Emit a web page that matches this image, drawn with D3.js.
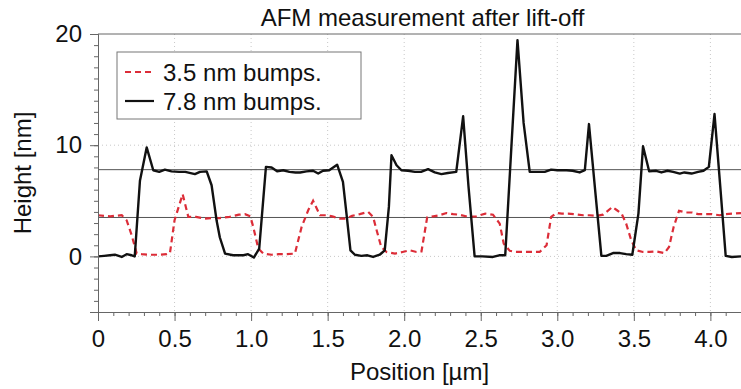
<!DOCTYPE html>
<html>
<head>
<meta charset="utf-8">
<script src="https://cdn.jsdelivr.net/npm/d3@7"></script>
<style>
  body { margin: 0; background: #fff; }
  text { font-family: "Liberation Sans", Arial, Helvetica, sans-serif; fill: #111; }
</style>
</head>
<body>
<div id="root"></div>
<script>
// AFM line profiles, [position um, height nm]
var bumps35 = [
  [0.0, 3.7], [0.04, 3.65], [0.08, 3.6], [0.11, 3.65], [0.155, 3.7], [0.187, 3.25],
  [0.22, 1.9], [0.253, 0.25], [0.285, 0.2], [0.34, 0.15], [0.39, 0.15], [0.448, 0.2],
  [0.47, 0.3], [0.50, 3.25], [0.553, 5.6], [0.59, 3.55], [0.64, 3.55], [0.698, 3.4],
  [0.74, 3.45], [0.796, 3.45], [0.86, 3.55], [0.92, 3.75], [0.96, 3.8], [0.995, 3.6],
  [1.014, 2.65], [1.047, 0.7], [1.08, 0.25], [1.134, 0.15], [1.18, 0.2], [1.23, 0.2],
  [1.286, 0.25], [1.33, 2.65], [1.373, 4.15], [1.405, 5.0], [1.45, 3.7], [1.49, 3.7],
  [1.53, 3.6], [1.58, 3.4], [1.62, 3.4], [1.66, 3.65], [1.71, 3.8], [1.765, 4.0],
  [1.797, 3.55], [1.82, 2.35], [1.85, 0.85], [1.885, 0.4], [1.94, 0.25], [1.99, 0.4],
  [2.037, 0.55], [2.08, 0.4], [2.113, 0.45], [2.15, 3.5], [2.19, 3.6], [2.23, 3.7],
  [2.276, 3.9], [2.32, 3.8], [2.36, 3.75], [2.42, 3.55], [2.47, 3.6], [2.53, 3.85],
  [2.58, 3.75], [2.624, 2.95], [2.65, 1.15], [2.69, 0.5], [2.73, 0.4], [2.78, 0.4],
  [2.84, 0.4], [2.885, 0.4], [2.93, 1.0], [2.96, 3.55], [2.994, 3.9], [3.03, 3.85],
  [3.07, 3.85], [3.11, 3.8], [3.17, 3.7], [3.21, 3.7], [3.26, 3.65], [3.30, 3.75],
  [3.36, 4.45], [3.39, 4.15], [3.42, 3.85], [3.45, 2.95], [3.483, 1.45], [3.516, 0.55],
  [3.56, 0.4], [3.6, 0.4], [3.645, 0.45], [3.70, 0.3], [3.73, 0.85], [3.76, 2.65],
  [3.795, 4.1], [3.84, 3.95], [3.88, 3.95], [3.92, 3.8], [3.97, 3.8], [4.01, 3.8],
  [4.06, 3.7], [4.1, 3.8], [4.15, 3.85], [4.2, 3.9]
];

var bumps78 = [
  [0.0, 0.0], [0.04, 0.05], [0.078, 0.1], [0.11, 0.15], [0.155, -0.05], [0.187, 0.2],
  [0.22, 0.1], [0.24, 0.0], [0.274, 6.8], [0.318, 9.8], [0.361, 7.75], [0.40, 7.6],
  [0.437, 7.8], [0.48, 7.65], [0.53, 7.6], [0.57, 7.6], [0.633, 7.4], [0.666, 7.6],
  [0.71, 7.65], [0.742, 6.4], [0.775, 3.2], [0.796, 1.7], [0.83, 0.25], [0.883, 0.1],
  [0.95, 0.1], [0.98, 0.2], [1.018, -0.1], [1.053, 0.7], [1.097, 8.05], [1.134, 8.0],
  [1.17, 7.65], [1.21, 7.75], [1.25, 7.6], [1.29, 7.55], [1.32, 7.55], [1.362, 7.65],
  [1.405, 7.7], [1.438, 7.45], [1.47, 7.7], [1.51, 7.75], [1.562, 8.25], [1.60, 6.7],
  [1.623, 3.85], [1.649, 0.55], [1.678, 0.15], [1.72, 0.05], [1.76, 0.1], [1.797, -0.05],
  [1.84, 0.15], [1.873, 0.55], [1.90, 4.45], [1.917, 9.1], [1.95, 8.2], [1.982, 7.75],
  [2.025, 7.7], [2.07, 7.6], [2.11, 7.6], [2.156, 7.85], [2.2, 7.55], [2.243, 7.4],
  [2.285, 7.5], [2.34, 7.6], [2.385, 12.6], [2.42, 6.3], [2.46, 0.0], [2.51, 0.0],
  [2.58, -0.05], [2.62, 0.1], [2.66, 0.1], [2.70, 9.8], [2.74, 19.45], [2.78, 12.0],
  [2.82, 7.6], [2.86, 7.6], [2.918, 7.6], [2.96, 7.8], [3.0, 7.75], [3.06, 7.75],
  [3.1, 7.7], [3.146, 7.55], [3.18, 7.75], [3.207, 11.9], [3.247, 6.0], [3.288, 0.05],
  [3.32, 0.05], [3.364, 0.3], [3.41, 0.3], [3.45, 0.2], [3.49, 0.15], [3.53, 3.85],
  [3.56, 9.9], [3.60, 7.65], [3.646, 7.7], [3.68, 7.55], [3.72, 7.7], [3.757, 7.6],
  [3.80, 7.45], [3.83, 7.55], [3.877, 7.45], [3.92, 7.6], [3.955, 7.7], [3.99, 8.05],
  [4.027, 12.8], [4.065, 6.2], [4.10, 0.05], [4.14, -0.05], [4.2, 0.0]
];

// nominal bump heights, drawn as thin reference lines
var levels = [7.8, 3.5];

var xTicks = [0, 0.5, 1.0, 1.5, 2.0, 2.5, 3.0, 3.5, 4.0];
var xTickLabels = ['0', '0.5', '1.0', '1.5', '2.0', '2.5', '3.0', '3.5', '4.0'];
var yTicks = [0, 10, 20];
var yTickLabels = ['0', '10', '20'];

var legendNames = ['3.5 nm bumps.', '7.8 nm bumps.'];

var width = 741, height = 389;
var plotL = 98, plotR = 741, plotT = 34, plotB = 312;

var svg = d3.select('#root')
  .append('svg')
    .attr('width', width)
    .attr('height', height);

var x = d3.scaleLinear().domain([0, 4.2]).range([plotL, plotR]);
var y = d3.scaleLinear().domain([-5, 20]).range([plotB, plotT]);

// dotted grid
svg.append('g')
  .selectAll('line')
  .data(xTicks.slice(1))
  .enter().append('line')
    .attr('x1', d => x(d)).attr('x2', d => x(d))
    .attr('y1', plotT).attr('y2', plotB)
    .attr('stroke', '#c8c8c8')
    .attr('stroke-dasharray', '1,3');

svg.append('g')
  .selectAll('line')
  .data(yTicks.slice(0, 2))
  .enter().append('line')
    .attr('x1', plotL).attr('x2', plotR)
    .attr('y1', d => y(d)).attr('y2', d => y(d))
    .attr('stroke', '#c8c8c8')
    .attr('stroke-dasharray', '1,3');

// reference levels
svg.append('g')
  .selectAll('line')
  .data(levels)
  .enter().append('line')
    .attr('x1', plotL).attr('x2', plotR)
    .attr('y1', d => y(d)).attr('y2', d => y(d))
    .attr('stroke', '#555')
    .attr('stroke-width', 1);

svg.append('clipPath')
    .attr('id', 'plot')
  .append('rect')
    .attr('x', plotL).attr('y', plotT)
    .attr('width', plotR - plotL).attr('height', plotB - plotT);

var line = d3.line()
  .x(d => x(d[0]))
  .y(d => y(d[1]));

svg.append('path')
  .datum(bumps35)
  .attr('clip-path', 'url(#plot)')
  .attr('d', line)
  .attr('fill', 'none')
  .attr('stroke', '#dc2d38')
  .attr('stroke-width', 2.2)
  .attr('stroke-dasharray', '6,4');

svg.append('path')
  .datum(bumps78)
  .attr('clip-path', 'url(#plot)')
  .attr('d', line)
  .attr('fill', 'none')
  .attr('stroke', '#111')
  .attr('stroke-width', 2.4)
  .attr('stroke-linejoin', 'round');

// axes
var axisColor = '#666';

var xMinor = svg.append('g')
  .attr('transform', 'translate(0,' + plotB + ')')
  .call(d3.axisBottom(x).tickValues(d3.range(0, 4.21, 0.1)).tickSize(4).tickFormat(''));

var xAxis = svg.append('g')
  .attr('transform', 'translate(0,' + plotB + ')')
  .call(d3.axisBottom(x).tickValues(xTicks).tickSize(9)
    .tickFormat((d, i) => xTickLabels[i]));

var yMinor = svg.append('g')
  .attr('transform', 'translate(' + plotL + ',0)')
  .call(d3.axisLeft(y).tickValues(d3.range(-5, 20.5, 1)).tickSize(4).tickFormat(''));

var yAxis = svg.append('g')
  .attr('transform', 'translate(' + plotL + ',0)')
  .call(d3.axisLeft(y).tickValues(yTicks).tickSize(8).tickPadding(8)
    .tickFormat((d, i) => yTickLabels[i]));

[xMinor, xAxis, yMinor, yAxis].forEach(g => {
  g.selectAll('path, line').attr('stroke', axisColor);
});

xAxis.selectAll('text')
  .attr('font-size', 24)
  .attr('dy', '0.95em');
yAxis.selectAll('text')
  .attr('font-size', 24);

// top frame line
svg.append('line')
  .attr('x1', plotL).attr('x2', plotR)
  .attr('y1', plotT).attr('y2', plotT)
  .attr('stroke', axisColor);

svg.append('text')
  .attr('x', (plotL + plotR) / 2 + 3)
  .attr('y', 26)
  .attr('text-anchor', 'middle')
  .attr('font-size', 24)
  .text('AFM measurement after lift-off');

svg.append('text')
  .attr('x', (plotL + plotR) / 2)
  .attr('y', 380)
  .attr('text-anchor', 'middle')
  .attr('font-size', 24)
  .text('Position [µm]');

svg.append('text')
  .attr('transform', 'translate(31,' + (plotT + plotB) / 2 + ') rotate(-90)')
  .attr('text-anchor', 'middle')
  .attr('font-size', 24)
  .text('Height [nm]');

// legend
var legend = svg.append('g').attr('transform', 'translate(117,52)');

legend.append('rect')
  .attr('width', 244)
  .attr('height', 67)
  .attr('fill', '#fff')
  .attr('stroke', '#777');

var rows = legend.selectAll('g.row')
  .data(legendNames)
  .enter().append('g')
    .attr('class', 'row')
    .attr('transform', (d, i) => 'translate(0,' + (20 + i * 29) + ')');

rows.append('line')
  .attr('x1', 8).attr('x2', 37)
  .attr('stroke', (d, i) => i === 0 ? '#dc2d38' : '#111')
  .attr('stroke-width', 2.2)
  .attr('stroke-dasharray', (d, i) => i === 0 ? '6,4' : null);

rows.append('text')
  .attr('x', 46)
  .attr('y', 9)
  .attr('font-size', 24)
  .text(d => d);
</script>
</body>
</html>
